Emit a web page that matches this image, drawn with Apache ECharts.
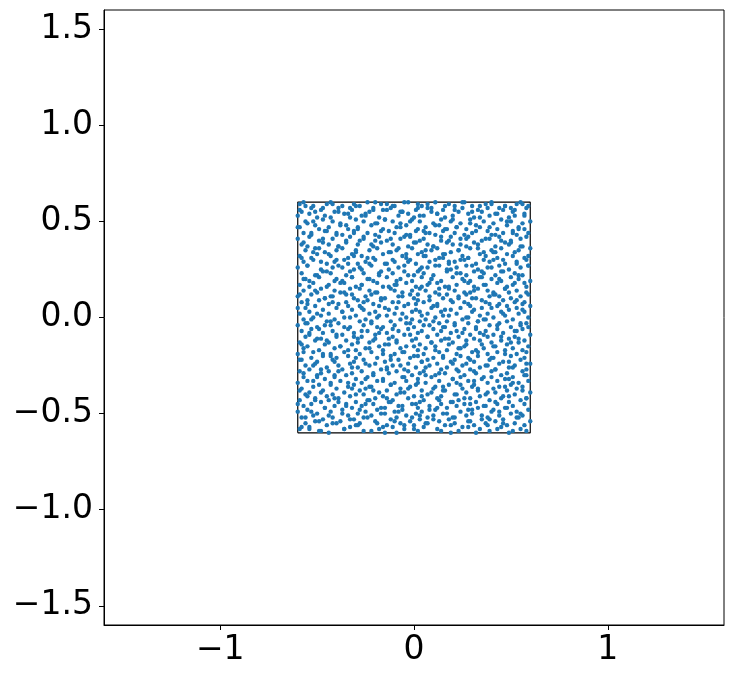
<!DOCTYPE html>
<html>
<head>
<meta charset="utf-8">
<script src="https://cdn.jsdelivr.net/npm/echarts@6/dist/echarts.min.js"></script>
<style>
  html, body { margin: 0; padding: 0; background: #fff; }
  #chart { width: 734px; height: 679px; }
</style>
</head>
<body>
<div id="chart"></div>
<script>
  /******************/
  //region    //data

  // axis range and tick labels
  let axisRange = [-1.6, 1.6];
  let xTicks = [-1, 0, 1];
  let yTicks = [-1.5, -1.0, -0.5, 0, 0.5, 1.0, 1.5];

  // corners of the square outline
  let boxCorners = [[-0.6, -0.6], [0.6, -0.6], [0.6, 0.6], [-0.6, 0.6], [-0.6, -0.6]];

  // scattered points, one row per horizontal strip
  let points = [
    [-.59,.59],[-.57,.6],[-.52,.58],[-.45,.59],[-.43,.6],[-.37,.58],[-.31,.59],[-.28,.58],[-.2,.6],[-.17,.59],[-.1,.58],[-.05,.6],[.02,.59],[.04,.58],[.11,.6],[.18,.59],[.21,.58],[.26,.6],[.3,.58],[.37,.59],[.4,.6],[.47,.58],[.53,.59],[.55,.6],[.59,.58],
    [-.58,.55],[-.53,.57],[-.48,.56],[-.41,.55],[-.39,.57],[-.32,.56],[-.23,.55],[-.21,.57],[-.14,.56],[-.12,.57],[-.06,.55],[.01,.56],[.07,.57],[.09,.55],[.15,.56],[.23,.55],[.25,.57],[.33,.56],[.35,.55],[.44,.57],[.46,.56],[.51,.55],[.58,.57],
    [-.6,.53],[-.54,.54],[-.5,.52],[-.46,.53],[-.36,.54],[-.33,.52],[-.27,.53],[-.25,.54],[-.18,.52],[-.08,.53],[-.03,.54],[0,.52],[.05,.53],[.12,.54],[.16,.52],[.2,.53],[.28,.54],[.31,.52],[.39,.53],[.42,.54],[.49,.52],[.52,.53],[.57,.54],
    [-.56,.5],[-.55,.49],[-.47,.51],[-.42,.5],[-.38,.49],[-.3,.51],[-.26,.5],[-.19,.49],[-.15,.51],[-.11,.5],[-.07,.49],[-.01,.51],[.03,.5],[.1,.49],[.14,.51],[.19,.5],[.24,.49],[.29,.51],[.36,.5],[.41,.49],[.45,.51],[.5,.5],[.56,.49],[.6,.5],
    [-.59,.47],[-.51,.48],[-.49,.46],[-.44,.47],[-.35,.48],[-.34,.46],[-.29,.47],[-.22,.48],[-.16,.46],[-.09,.47],[-.04,.48],[.02,.46],[.06,.47],[.13,.48],[.17,.46],[.22,.47],[.27,.46],[.32,.48],[.34,.47],[.43,.46],[.48,.48],[.54,.47],[.57,.46],
    [-.57,.44],[-.53,.43],[-.46,.45],[-.4,.44],[-.37,.43],[-.31,.45],[-.24,.44],[-.2,.43],[-.13,.45],[-.1,.44],[-.02,.43],[.01,.45],[.08,.44],[.11,.43],[.15,.45],[.21,.44],[.26,.43],[.3,.44],[.38,.45],[.4,.43],[.46,.44],[.51,.45],[.53,.43],[.59,.44],
    [-.6,.41],[-.54,.42],[-.49,.4],[-.42,.41],[-.33,.42],[-.28,.4],[-.26,.41],[-.18,.42],[-.14,.4],[-.07,.41],[-.05,.42],[.03,.4],[.05,.41],[.14,.42],[.18,.4],[.24,.41],[.28,.42],[.35,.4],[.39,.41],[.44,.42],[.5,.4],[.55,.41],[.58,.42],
    [-.58,.38],[-.55,.37],[-.47,.39],[-.44,.38],[-.39,.37],[-.35,.39],[-.29,.38],[-.21,.37],[-.17,.39],[-.11,.38],[-.03,.37],[0,.39],[.07,.38],[.1,.37],[.17,.39],[.2,.38],[.27,.37],[.31,.39],[.33,.38],[.42,.37],[.47,.39],[.49,.38],[.56,.37],
    [-.56,.35],[-.51,.36],[-.46,.34],[-.4,.35],[-.37,.36],[-.3,.34],[-.23,.35],[-.19,.36],[-.12,.34],[-.09,.35],[-.01,.36],[.04,.34],[.09,.35],[.12,.36],[.19,.34],[.23,.35],[.29,.36],[.36,.34],[.4,.35],[.45,.36],[.52,.34],[.54,.35],[.6,.36],
    [-.59,.32],[-.53,.31],[-.5,.33],[-.43,.32],[-.34,.31],[-.32,.33],[-.27,.32],[-.24,.31],[-.16,.33],[-.06,.32],[-.04,.31],[.02,.33],[.06,.32],[.15,.31],[.16,.33],[.25,.32],[.28,.31],[.34,.33],[.37,.32],[.43,.31],[.48,.33],[.51,.32],[.57,.31],
    [-.57,.29],[-.52,.3],[-.45,.28],[-.41,.29],[-.36,.3],[-.29,.28],[-.25,.29],[-.2,.3],[-.15,.28],[-.1,.29],[-.02,.3],[.01,.28],[.08,.29],[.11,.3],[.18,.28],[.21,.29],[.26,.3],[.32,.28],[.39,.29],[.41,.3],[.47,.28],[.53,.29],[.58,.3],
    [-.6,.26],[-.55,.27],[-.48,.25],[-.42,.26],[-.39,.27],[-.31,.25],[-.28,.26],[-.22,.27],[-.13,.25],[-.08,.26],[-.05,.27],[.03,.25],[.07,.26],[.13,.27],[.19,.25],[.22,.26],[.3,.27],[.33,.25],[.38,.26],[.44,.27],[.49,.25],[.55,.26],[.59,.27],
    [-.58,.23],[-.51,.22],[-.47,.24],[-.43,.23],[-.35,.22],[-.33,.24],[-.26,.23],[-.18,.22],[-.17,.24],[-.11,.23],[-.03,.22],[.02,.24],[.05,.23],[.1,.22],[.17,.24],[.24,.23],[.27,.22],[.35,.24],[.36,.23],[.42,.22],[.46,.24],[.52,.23],[.56,.22],
    [-.56,.2],[-.54,.19],[-.49,.21],[-.4,.2],[-.37,.19],[-.32,.21],[-.24,.2],[-.21,.19],[-.14,.21],[-.07,.2],[-.01,.19],[.04,.21],[.09,.2],[.14,.19],[.2,.21],[.25,.2],[.29,.19],[.34,.21],[.4,.2],[.45,.19],[.5,.21],[.54,.2],[.6,.19],
    [-.59,.17],[-.52,.18],[-.45,.16],[-.44,.17],[-.38,.18],[-.3,.16],[-.27,.17],[-.19,.18],[-.16,.16],[-.09,.17],[-.04,.18],[.01,.16],[.07,.17],[.12,.18],[.16,.16],[.22,.17],[.28,.18],[.31,.16],[.37,.17],[.43,.18],[.48,.16],[.51,.17],[.57,.18],
    [-.57,.14],[-.5,.13],[-.48,.15],[-.41,.14],[-.36,.13],[-.33,.15],[-.23,.14],[-.2,.13],[-.12,.15],[-.1,.14],[-.06,.13],[.03,.15],[.06,.14],[.11,.13],[.18,.15],[.21,.14],[.26,.13],[.33,.15],[.38,.14],[.41,.13],[.47,.15],[.53,.14],[.58,.13],
    [-.6,.11],[-.53,.12],[-.46,.1],[-.43,.11],[-.35,.12],[-.31,.1],[-.25,.11],[-.22,.12],[-.15,.1],[-.08,.11],[-.02,.12],[0,.1],[.08,.11],[.13,.12],[.15,.1],[.23,.11],[.27,.12],[.32,.1],[.39,.11],[.42,.12],[.5,.1],[.55,.11],[.59,.12],
    [-.58,.08],[-.55,.07],[-.49,.09],[-.42,.08],[-.39,.07],[-.29,.09],[-.26,.08],[-.21,.07],[-.17,.09],[-.11,.08],[-.03,.07],[.02,.09],[.05,.08],[.12,.07],[.19,.09],[.2,.08],[.28,.07],[.35,.09],[.37,.08],[.44,.07],[.46,.09],[.52,.08],[.56,.07],
    [-.56,.05],[-.51,.06],[-.47,.04],[-.4,.05],[-.34,.06],[-.32,.04],[-.27,.05],[-.18,.06],[-.13,.04],[-.09,.05],[-.05,.06],[.01,.04],[.09,.05],[.1,.06],[.16,.04],[.24,.05],[.29,.06],[.31,.04],[.4,.05],[.43,.06],[.49,.04],[.53,.05],[.6,.06],
    [-.59,.02],[-.54,.03],[-.48,.01],[-.44,.02],[-.37,.03],[-.3,.01],[-.23,.02],[-.2,.03],[-.14,.01],[-.06,.02],[-.01,.03],[.04,.01],[.07,.02],[.14,.03],[.18,.01],[.22,.02],[.3,.03],[.34,.01],[.38,.02],[.45,.03],[.47,.01],[.54,.02],[.57,.03],
    [-.57,-.01],[-.52,0],[-.45,-.02],[-.41,-.01],[-.36,0],[-.28,-.02],[-.25,-.01],[-.19,0],[-.12,-.02],[-.07,-.01],[-.04,0],[.03,-.02],[.06,-.01],[.11,0],[.17,-.02],[.25,-.01],[.27,0],[.33,-.02],[.36,-.01],[.41,0],[.48,-.02],[.51,-.01],[.59,0],
    [-.6,-.04],[-.55,-.03],[-.5,-.05],[-.43,-.04],[-.39,-.03],[-.33,-.05],[-.26,-.04],[-.22,-.03],[-.16,-.05],[-.1,-.04],[-.02,-.03],[0,-.05],[.08,-.04],[.13,-.03],[.15,-.05],[.21,-.04],[.28,-.03],[.32,-.05],[.39,-.04],[.44,-.03],[.5,-.05],[.55,-.04],[.58,-.03],
    [-.58,-.07],[-.53,-.06],[-.47,-.08],[-.42,-.07],[-.34,-.06],[-.31,-.08],[-.24,-.07],[-.17,-.06],[-.14,-.08],[-.08,-.07],[-.03,-.06],[.02,-.08],[.04,-.07],[.1,-.06],[.19,-.08],[.22,-.07],[.26,-.06],[.34,-.08],[.37,-.07],[.43,-.06],[.46,-.08],[.53,-.07],[.56,-.06],
    [-.56,-.1],[-.54,-.09],[-.48,-.11],[-.4,-.1],[-.37,-.09],[-.29,-.11],[-.27,-.1],[-.2,-.09],[-.13,-.11],[-.11,-.1],[-.05,-.09],[.01,-.11],[.07,-.1],[.12,-.09],[.16,-.11],[.23,-.1],[.29,-.09],[.31,-.11],[.38,-.1],[.41,-.09],[.49,-.11],[.52,-.1],[.6,-.09],
    [-.59,-.13],[-.51,-.12],[-.46,-.14],[-.44,-.13],[-.35,-.12],[-.32,-.14],[-.23,-.13],[-.21,-.12],[-.15,-.14],[-.09,-.13],[-.01,-.12],[.03,-.14],[.09,-.13],[.14,-.12],[.18,-.14],[.2,-.13],[.27,-.12],[.35,-.14],[.4,-.13],[.45,-.12],[.48,-.14],[.54,-.13],[.57,-.12],
    [-.57,-.16],[-.55,-.15],[-.49,-.17],[-.41,-.16],[-.38,-.15],[-.3,-.17],[-.25,-.16],[-.18,-.15],[-.16,-.17],[-.07,-.16],[-.04,-.15],[.02,-.17],[.06,-.16],[.11,-.15],[.17,-.17],[.24,-.16],[.26,-.15],[.32,-.17],[.36,-.16],[.42,-.15],[.47,-.17],[.51,-.16],[.59,-.15],
    [-.6,-.19],[-.52,-.18],[-.47,-.2],[-.43,-.19],[-.36,-.18],[-.34,-.2],[-.28,-.19],[-.22,-.18],[-.12,-.2],[-.1,-.19],[-.06,-.18],[0,-.2],[.05,-.19],[.13,-.18],[.15,-.2],[.22,-.19],[.3,-.18],[.33,-.2],[.38,-.19],[.43,-.18],[.5,-.2],[.53,-.19],[.58,-.18],
    [-.58,-.22],[-.53,-.21],[-.5,-.23],[-.42,-.22],[-.4,-.21],[-.31,-.23],[-.26,-.22],[-.19,-.21],[-.15,-.23],[-.08,-.22],[-.02,-.21],[.04,-.23],[.07,-.22],[.1,-.21],[.19,-.23],[.21,-.22],[.28,-.21],[.31,-.23],[.39,-.22],[.41,-.21],[.46,-.23],[.55,-.22],[.57,-.21],
    [-.56,-.25],[-.51,-.24],[-.45,-.26],[-.39,-.25],[-.33,-.24],[-.29,-.26],[-.23,-.25],[-.2,-.24],[-.14,-.26],[-.11,-.25],[-.03,-.24],[.01,-.26],[.08,-.25],[.12,-.24],[.17,-.26],[.25,-.25],[.27,-.24],[.34,-.26],[.37,-.25],[.44,-.24],[.49,-.26],[.52,-.25],[.6,-.24],
    [-.59,-.28],[-.54,-.27],[-.48,-.29],[-.44,-.28],[-.37,-.27],[-.32,-.29],[-.27,-.28],[-.17,-.27],[-.13,-.29],[-.09,-.28],[-.05,-.27],[.03,-.29],[.05,-.28],[.14,-.27],[.16,-.29],[.23,-.28],[.29,-.27],[.32,-.29],[.4,-.28],[.42,-.27],[.48,-.29],[.56,-.28],[.58,-.27],
    [-.57,-.31],[-.5,-.3],[-.46,-.32],[-.41,-.31],[-.35,-.3],[-.3,-.32],[-.24,-.31],[-.21,-.3],[-.16,-.32],[-.06,-.31],[-.01,-.3],[.02,-.32],[.09,-.31],[.11,-.3],[.2,-.32],[.24,-.31],[.26,-.3],[.35,-.32],[.36,-.31],[.45,-.3],[.47,-.32],[.51,-.31],[.57,-.3],
    [-.6,-.34],[-.55,-.33],[-.49,-.35],[-.43,-.34],[-.38,-.33],[-.31,-.35],[-.27,-.34],[-.19,-.33],[-.12,-.35],[-.1,-.34],[-.04,-.33],[.01,-.35],[.06,-.34],[.13,-.33],[.18,-.35],[.22,-.34],[.28,-.33],[.31,-.35],[.38,-.34],[.43,-.33],[.5,-.35],[.54,-.34],[.59,-.33],
    [-.58,-.37],[-.52,-.36],[-.47,-.38],[-.4,-.37],[-.34,-.36],[-.28,-.38],[-.25,-.37],[-.22,-.36],[-.14,-.38],[-.07,-.37],[-.02,-.36],[.04,-.38],[.1,-.37],[.15,-.36],[.16,-.38],[.25,-.37],[.3,-.36],[.33,-.38],[.41,-.37],[.44,-.36],[.48,-.38],[.53,-.37],[.56,-.36],
    [-.56,-.4],[-.54,-.39],[-.45,-.41],[-.42,-.4],[-.36,-.39],[-.33,-.41],[-.26,-.4],[-.18,-.39],[-.16,-.41],[-.09,-.4],[-.05,-.39],[0,-.41],[.07,-.4],[.09,-.39],[.14,-.41],[.21,-.4],[.27,-.39],[.34,-.41],[.37,-.4],[.42,-.39],[.46,-.41],[.52,-.4],[.6,-.39],
    [-.59,-.43],[-.51,-.42],[-.48,-.44],[-.44,-.43],[-.39,-.42],[-.3,-.44],[-.23,-.43],[-.2,-.42],[-.13,-.44],[-.11,-.43],[-.03,-.42],[.03,-.44],[.05,-.43],[.12,-.42],[.19,-.44],[.23,-.43],[.26,-.42],[.32,-.44],[.39,-.43],[.45,-.42],[.49,-.44],[.55,-.43],[.58,-.42],
    [-.57,-.46],[-.53,-.45],[-.46,-.47],[-.41,-.46],[-.35,-.45],[-.32,-.47],[-.27,-.46],[-.21,-.45],[-.15,-.47],[-.08,-.46],[-.01,-.45],[.02,-.47],[.08,-.46],[.14,-.45],[.17,-.47],[.22,-.46],[.29,-.45],[.33,-.47],[.36,-.46],[.43,-.45],[.47,-.47],[.51,-.46],[.57,-.45],
    [-.6,-.49],[-.55,-.48],[-.5,-.5],[-.43,-.49],[-.37,-.48],[-.29,-.5],[-.25,-.49],[-.19,-.48],[-.17,-.5],[-.1,-.49],[-.06,-.48],[.01,-.5],[.04,-.49],[.11,-.48],[.15,-.5],[.24,-.49],[.28,-.48],[.3,-.5],[.4,-.49],[.41,-.48],[.5,-.5],[.53,-.49],[.59,-.48],
    [-.58,-.52],[-.52,-.51],[-.47,-.53],[-.42,-.52],[-.34,-.51],[-.31,-.53],[-.24,-.52],[-.22,-.51],[-.12,-.53],[-.09,-.52],[-.04,-.51],[.03,-.53],[.07,-.52],[.1,-.51],[.18,-.53],[.2,-.52],[.27,-.51],[.35,-.53],[.38,-.52],[.44,-.51],[.46,-.53],[.54,-.52],[.56,-.51],
    [-.56,-.55],[-.51,-.54],[-.45,-.56],[-.4,-.55],[-.38,-.54],[-.3,-.56],[-.28,-.55],[-.2,-.54],[-.14,-.56],[-.07,-.55],[-.02,-.54],[0,-.56],[.06,-.55],[.13,-.54],[.16,-.56],[.21,-.55],[.29,-.54],[.31,-.56],[.37,-.55],[.42,-.54],[.48,-.56],[.52,-.55],[.6,-.54],
    [-.59,-.58],[-.54,-.57],[-.49,-.59],[-.44,-.6],[-.36,-.58],[-.33,-.57],[-.26,-.59],[-.18,-.58],[-.15,-.6],[-.11,-.57],[-.05,-.58],[.02,-.59],[.05,-.57],[.12,-.58],[.19,-.6],[.23,-.59],[.28,-.57],[.34,-.58],[.39,-.59],[.45,-.57],[.49,-.6],[.55,-.58],[.58,-.59]
  ];

  // more points, one row per vertical strip
  let morePoints = [
    [-.6,.47],[-.58,.31],[-.59,.12],[-.6,.05],[-.58,-.14],[-.59,-.22],[-.59,-.38],[-.6,-.45],[-.58,-.57],[-.59,.56],
    [-.56,.58],[-.57,.39],[-.55,.27],[-.55,.09],[-.56,-.03],[-.57,-.18],[-.57,-.29],[-.55,-.41],[-.56,-.52],[-.57,.2],
    [-.52,.5],[-.53,.44],[-.54,.16],[-.53,-.01],[-.54,-.08],[-.52,-.25],[-.52,-.33],[-.53,-.49],[-.54,-.58],[-.52,.34],
    [-.51,.55],[-.49,.36],[-.5,.22],[-.51,.14],[-.49,-.06],[-.5,-.11],[-.5,-.31],[-.51,-.43],[-.49,-.54],[-.5,.02],
    [-.47,.41],[-.48,.29],[-.46,.1],[-.46,-.04],[-.47,-.19],[-.48,-.27],[-.48,-.39],[-.46,-.47],[-.47,.57],[-.48,-.59],
    [-.43,.52],[-.44,.33],[-.45,.24],[-.44,.07],[-.45,-.12],[-.43,-.2],[-.43,-.35],[-.44,-.51],[-.45,.45],[-.43,-.02],
    [-.42,.59],[-.4,.43],[-.41,.19],[-.42,.11],[-.4,-.09],[-.41,-.23],[-.41,-.3],[-.42,-.55],[-.4,.3],[-.41,-.42],
    [-.38,.48],[-.39,.37],[-.37,.26],[-.37,.03],[-.38,-.15],[-.39,-.28],[-.39,-.44],[-.37,-.5],[-.38,.13],[-.39,.55],
    [-.34,.54],[-.35,.4],[-.36,.18],[-.35,.08],[-.36,-.05],[-.34,-.17],[-.34,-.34],[-.35,-.46],[-.36,-.58],[-.34,.28],
    [-.33,.57],[-.31,.32],[-.32,.21],[-.33,0],[-.31,-.1],[-.32,-.26],[-.32,-.37],[-.33,-.53],[-.31,.44],[-.32,.12],
    [-.29,.46],[-.3,.35],[-.28,.15],[-.28,.06],[-.29,-.13],[-.3,-.21],[-.3,-.4],[-.28,-.48],[-.29,-.56],[-.3,.58],
    [-.25,.53],[-.26,.42],[-.27,.25],[-.26,.04],[-.27,-.07],[-.25,-.24],[-.25,-.32],[-.26,-.52],[-.27,.17],[-.25,-.45],
    [-.24,.6],[-.22,.38],[-.23,.2],[-.24,.09],[-.22,-.02],[-.23,-.16],[-.23,-.36],[-.24,-.43],[-.22,-.59],[-.23,.28],
    [-.2,.49],[-.21,.31],[-.19,.13],[-.19,-.05],[-.2,-.11],[-.21,-.29],[-.21,-.38],[-.19,-.55],[-.2,.4],[-.21,.56],
    [-.16,.56],[-.17,.45],[-.18,.23],[-.17,.1],[-.18,-.08],[-.16,-.19],[-.16,-.33],[-.17,-.47],[-.18,.01],[-.16,-.57],
    [-.15,.51],[-.13,.34],[-.14,.28],[-.15,.05],[-.13,-.14],[-.14,-.27],[-.14,-.42],[-.15,-.5],[-.13,.16],[-.14,.59],
    [-.11,.58],[-.12,.41],[-.1,.17],[-.1,.02],[-.11,-.06],[-.12,-.22],[-.12,-.35],[-.1,-.54],[-.11,.3],[-.12,-.44],
    [-.07,.47],[-.08,.36],[-.09,.19],[-.08,.08],[-.09,-.12],[-.07,-.25],[-.07,-.39],[-.08,-.49],[-.09,-.6],[-.07,.55],
    [-.06,.55],[-.04,.43],[-.05,.24],[-.06,.11],[-.04,-.03],[-.05,-.18],[-.05,-.31],[-.06,-.46],[-.04,.33],[-.05,-.56],
    [-.02,.5],[-.03,.29],[-.01,.14],[-.01,-.01],[-.02,-.09],[-.03,-.28],[-.03,-.37],[-.01,-.52],[-.02,.42],[-.03,.6],
    [.02,.57],[.01,.39],[0,.22],[.01,.07],[0,-.15],[.02,-.2],[.02,-.34],[.01,-.45],[0,-.58],[.02,.12],
    [.03,.53],[.05,.32],[.04,.26],[.03,.03],[.05,-.04],[.04,-.23],[.04,-.41],[.03,-.51],[.05,.45],[.04,.16],
    [.07,.59],[.06,.44],[.08,.18],[.08,.09],[.07,-.1],[.06,-.26],[.06,-.3],[.08,-.48],[.07,-.55],[.06,.35],
    [.11,.48],[.1,.37],[.09,.2],[.1,-.02],[.09,-.13],[.11,-.17],[.11,-.36],[.1,-.53],[.09,.57],[.11,.27],
    [.12,.54],[.14,.4],[.13,.15],[.12,.06],[.14,-.07],[.13,-.29],[.13,-.43],[.12,-.47],[.14,-.59],[.13,.31],
    [.16,.58],[.15,.33],[.17,.25],[.17,.12],[.16,-.05],[.15,-.21],[.15,-.38],[.17,-.5],[.16,.46],[.15,.01],
    [.2,.51],[.19,.42],[.18,.16],[.19,.04],[.18,-.11],[.2,-.24],[.2,-.32],[.19,-.56],[.18,.29],[.2,-.44],
    [.21,.56],[.23,.35],[.22,.23],[.21,-.03],[.23,-.16],[.22,-.27],[.22,-.4],[.21,-.52],[.23,.1],[.22,.47],
    [.25,.6],[.24,.38],[.26,.19],[.26,.08],[.25,-.08],[.24,-.2],[.24,-.35],[.26,-.45],[.25,-.57],[.24,.3],
    [.29,.49],[.28,.31],[.27,.27],[.28,0],[.27,-.14],[.29,-.22],[.29,-.42],[.28,-.54],[.27,.41],[.29,.13],
    [.3,.55],[.32,.45],[.31,.14],[.3,.1],[.32,-.06],[.31,-.28],[.31,-.33],[.3,-.48],[.32,-.6],[.31,.24],
    [.34,.52],[.33,.36],[.35,.21],[.35,.05],[.34,-.12],[.33,-.18],[.33,-.37],[.35,-.51],[.34,.58],[.33,-.02],
    [.38,.57],[.37,.41],[.36,.17],[.37,-.01],[.36,-.09],[.38,-.25],[.38,-.39],[.37,-.46],[.36,.3],[.38,-.56],
    [.39,.47],[.41,.34],[.4,.26],[.39,.07],[.41,-.15],[.4,-.21],[.4,-.31],[.39,-.53],[.41,.12],[.4,.59],
    [.43,.54],[.42,.43],[.44,.2],[.44,.11],[.43,-.04],[.42,-.27],[.42,-.44],[.44,-.49],[.43,-.58],[.42,.34],
    [.47,.58],[.46,.3],[.45,.24],[.46,.02],[.45,-.1],[.47,-.19],[.47,-.36],[.46,-.55],[.45,.4],[.47,.15],
    [.48,.5],[.5,.39],[.49,.13],[.48,.06],[.5,-.13],[.49,-.23],[.49,-.41],[.48,-.47],[.5,.57],[.49,-.32],
    [.52,.56],[.51,.44],[.53,.28],[.53,.09],[.52,-.07],[.51,-.26],[.51,-.34],[.53,-.52],[.52,.18],[.51,-.59],
    [.56,.59],[.55,.37],[.54,.22],[.55,-.03],[.54,-.11],[.56,-.17],[.56,-.38],[.55,-.5],[.54,.46],[.56,.04],
    [.57,.53],[.59,.32],[.58,.16],[.57,.08],[.59,-.05],[.58,-.24],[.58,-.42],[.57,-.56],[.59,.27],[.58,-.3]
  ];

  //endregion

  /******************/
  //region    //function

  let fontFamily = 'DejaVu Sans';

  /**
   * 用 unicode 减号显示负数
   */
  function minus(text) {
    return text.replace('-', '\u2212');
  }

  function makeAxis(ticks, fmt, isX) {
    return {
      type: 'value',
      min: axisRange[0],
      max: axisRange[1],
      axisLine: {show: true, onZero: false, lineStyle: {color: '#000', width: 1}},
      axisTick: {show: true, inside: false, length: 5, customValues: ticks, lineStyle: {color: '#000', width: 1}},
      axisLabel: {
        customValues: ticks,
        color: '#000',
        fontSize: 33,
        fontFamily: fontFamily,
        margin: isX ? 9 : 11,
        formatter: fmt,
      },
      splitLine: {show: false},
    };
  }

  function deployChart() {
    let chart = echarts.init(document.getElementById('chart'), null, {renderer: 'canvas'});

    let option = {
      animation: false,
      grid: {
        left: 104, top: 10, width: 620, height: 615,
        show: true, borderColor: '#000', borderWidth: 1,
        containLabel: false,
      },
      xAxis: makeAxis(xTicks, v => minus(String(v)), true),
      yAxis: makeAxis(yTicks, v => minus(Number(v).toFixed(1)), false),
      series: [
        {
          type: 'line',
          data: boxCorners,
          symbol: 'none',
          lineStyle: {color: '#000', width: 1.2},
          z: 1,
        },
        {
          type: 'scatter',
          data: points.concat(morePoints),
          symbolSize: 4.4,
          itemStyle: {color: '#1f77b4', opacity: 1},
          z: 2,
        },
      ],
    };

    chart.setOption(option);
  }

  deployChart();

  //endregion
</script>
</body>
</html>
